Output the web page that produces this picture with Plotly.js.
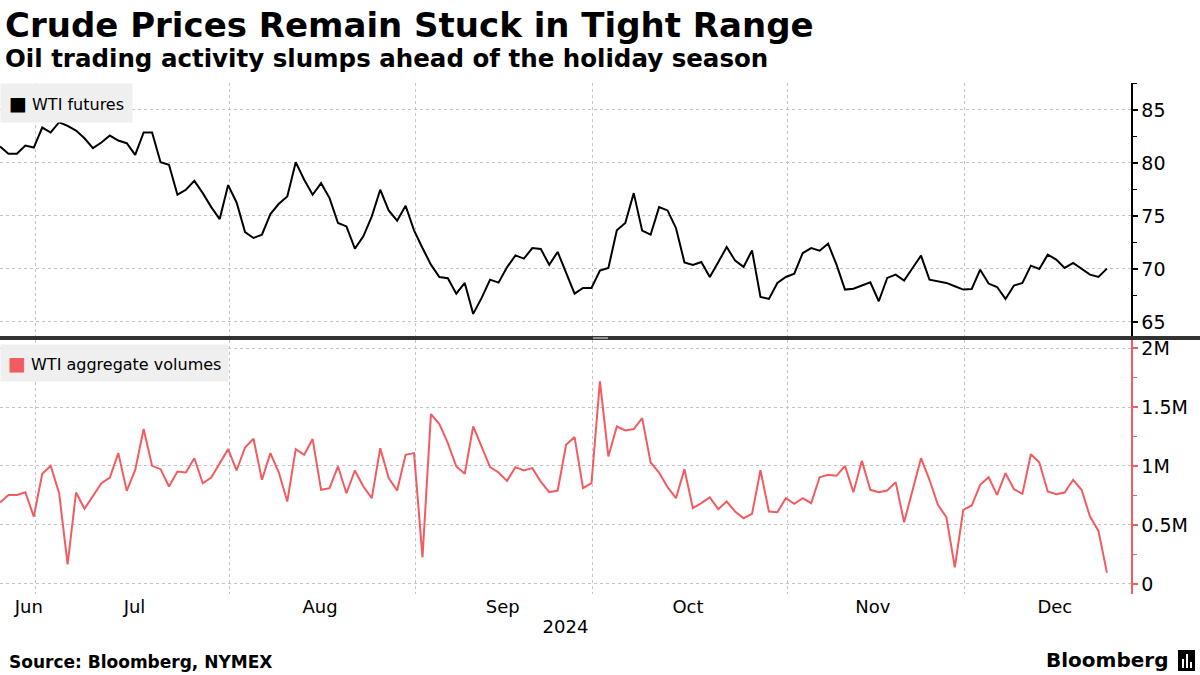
<!DOCTYPE html>
<html>
<head>
<meta charset="utf-8">
<script src="https://cdn.plot.ly/plotly-3.0.1.min.js"></script>
<style>
  html, body { margin: 0; padding: 0; background: #ffffff; }
  #chart { width: 1200px; height: 675px; }
</style>
</head>
<body>
<div id="chart"></div>
<script>
// ---- Data ----
// One point per weekday, starting Mon 24 Jun 2024 and ending Tue 24 Dec 2024 (132 points)
const START_DATE = '2024-06-24';
const N_POINTS = 132;

// WTI futures ($/bbl)
const wtiFutures = [
  81.55, 80.86, 80.86, 81.64, 81.45, 83.34, 82.87, 83.84, 83.49, 83.05,
  82.33, 81.39, 81.92, 82.58, 82.11, 81.86, 80.76, 82.87, 82.87, 80.07,
  79.82, 77.00, 77.47, 78.31, 77.15, 75.83, 74.70, 77.91, 76.27, 73.48,
  72.92, 73.23, 75.18, 76.15, 76.84, 80.07, 78.41, 77.00, 78.09, 76.68,
  74.33, 74.01, 71.91, 73.07, 74.96, 77.47, 75.52, 74.55, 75.96, 73.64,
  71.97, 70.40, 69.24, 69.12, 67.67, 68.68, 65.76, 67.27, 68.99, 68.71,
  70.15, 71.28, 70.97, 71.97, 71.88, 70.40, 71.60, 69.62, 67.67, 68.21,
  68.21, 69.84, 70.09, 73.64, 74.33, 77.15, 73.61, 73.23, 75.83, 75.52,
  73.86, 70.62, 70.37, 70.66, 69.24, 70.62, 72.07, 70.78, 70.19, 71.75,
  67.36, 67.17, 68.68, 69.24, 69.55, 71.50, 71.97, 71.72, 72.38, 70.40,
  68.05, 68.14, 68.43, 68.74, 66.95, 69.15, 69.46, 68.90, 70.09, 71.25,
  68.99, 68.84, 68.68, 68.37, 68.05, 68.11, 69.93, 68.62, 68.30, 67.17,
  68.43, 68.68, 70.31, 70.00, 71.35, 70.88, 70.09, 70.56, 70.00, 69.46,
  69.24, 70.03
];

// WTI aggregate volumes (contracts)
const wtiVolumes = [
  690000, 755000, 755000, 778000, 571000, 934000, 1001000, 769000, 167000, 775000,
  637000, 741000, 854000, 902000, 1109000, 789000, 967000, 1313000, 1001000, 973000,
  826000, 953000, 945000, 1066000, 854000, 902000, 1024000, 1143000, 962000, 1157000,
  1231000, 883000, 1109000, 945000, 699000, 1143000, 1095000, 1228000, 798000, 812000,
  996000, 769000, 962000, 826000, 727000, 1151000, 897000, 792000, 1095000, 1109000,
  226000, 1440000, 1355000, 1194000, 996000, 934000, 1335000, 1160000, 990000, 945000,
  874000, 990000, 962000, 982000, 868000, 778000, 792000, 1180000, 1245000, 812000,
  854000, 1717000, 1081000, 1335000, 1301000, 1313000, 1406000, 1030000, 945000, 820000,
  727000, 973000, 642000, 685000, 733000, 634000, 699000, 614000, 557000, 594000,
  964000, 614000, 608000, 727000, 679000, 727000, 685000, 905000, 925000, 917000,
  1001000, 778000, 1044000, 798000, 778000, 792000, 863000, 523000, 789000, 1066000,
  883000, 670000, 566000, 141000, 628000, 665000, 840000, 905000, 755000, 939000,
  803000, 764000, 1100000, 1030000, 784000, 761000, 775000, 883000, 798000, 571000,
  450000, 96000
];

// X-axis labels
const monthLabels = ['Jun', 'Jul', 'Aug', 'Sep', 'Oct', 'Nov', 'Dec'];
const monthLabelDates = ['2024-06-28 06:00', '2024-07-16 18:00', '2024-08-15 17:00',
  '2024-09-16 08:00', '2024-10-16 06:00', '2024-11-15 03:00', '2024-12-16 16:00'];
const monthStarts = ['2024-07-01', '2024-08-01', '2024-09-02', '2024-10-01', '2024-11-01', '2024-12-02'];
const yearLabel = '2024';

// Y-axis ticks
const priceTicks = [65, 70, 75, 80, 85];
const volumeTickVals = [0, 500000, 1000000, 1500000, 2000000];
const volumeTickText = ['0', '0.5M', '1M', '1.5M', '2M'];

// ---- Build weekday dates (x categories) ----
function pad(n) { return (n < 10 ? '0' : '') + n; }
function weekdayDates(start, count) {
  const p = start.split('-').map(Number);
  let d = new Date(Date.UTC(p[0], p[1] - 1, p[2]));
  const out = [];
  while (out.length < count) {
    const wd = d.getUTCDay();
    if (wd !== 0 && wd !== 6) {
      out.push(d.getUTCFullYear() + '-' + pad(d.getUTCMonth() + 1) + '-' + pad(d.getUTCDate()) + ' 20:00');
    }
    d = new Date(d.getTime() + 86400000);
  }
  return out;
}
const dates = weekdayDates(START_DATE, N_POINTS);

const FONT = 'DejaVu Sans';
const GRID = '#c4c4c4';
const RED = '#f25b60';

const traces = [
  {
    x: dates, y: wtiFutures, type: 'scatter', mode: 'lines',
    xaxis: 'x', yaxis: 'y', name: 'WTI futures',
    line: { color: '#000000', width: 2 }, hoverinfo: 'x+y'
  },
  {
    x: dates, y: wtiVolumes, type: 'scatter', mode: 'lines',
    xaxis: 'x', yaxis: 'y2', name: 'WTI aggregate volumes',
    line: { color: RED, width: 2 }, hoverinfo: 'x+y'
  }
];

const layout = {
  width: 1200, height: 675,
  margin: { l: 0, r: 69, t: 83, b: 81, pad: 0 },
  paper_bgcolor: '#ffffff', plot_bgcolor: '#ffffff',
  showlegend: false,
  font: { family: FONT, color: '#000000' },
  title: {
    text: 'Crude Prices Remain Stuck in Tight Range',
    x: 5 / 1200, xref: 'container', xanchor: 'left',
    y: 1 - 25 / 675, yref: 'container', yanchor: 'middle',
    font: { family: FONT, size: 34, weight: 'bold', color: '#000000' }
  },
  xaxis: {
    type: 'date', anchor: 'y2', domain: [0, 1],
    range: ['2024-06-24 20:00', '2024-12-27 16:24'],
    rangebreaks: [{ bounds: ['sat', 'mon'] }],
    tickmode: 'array', tickvals: monthLabelDates, ticktext: monthLabels,
    showgrid: false, zeroline: false, showline: false, ticks: '',
    tickfont: { family: FONT, size: 18, color: '#000000' },
    minor: {
      tickmode: 'array', tickvals: monthStarts, showgrid: true,
      gridcolor: GRID, gridwidth: 1, griddash: 'dot', ticks: ''
    },
    title: { text: yearLabel, font: { family: FONT, size: 18, color: '#000000' }, standoff: 4 }
  },
  yaxis: {
    domain: [0.504, 1], anchor: 'x', side: 'right',
    range: [63.63, 87.54],
    tickmode: 'array', tickvals: priceTicks,
    showgrid: true, gridcolor: GRID, gridwidth: 1, griddash: 'dot',
    zeroline: false, showline: true, linecolor: '#000000', linewidth: 1.5,
    ticks: 'outside', ticklen: 5, tickwidth: 2, tickcolor: '#000000',
    minor: { dtick: 2.5, tick0: 62.5, ticks: 'outside', ticklen: 4, tickwidth: 1, tickcolor: '#000000', showgrid: false },
    tickfont: { family: FONT, size: 19, color: '#000000' }
  },
  yaxis2: {
    domain: [0, 0.498], anchor: 'x', side: 'right',
    range: [-85000, 2072000],
    tickmode: 'array', tickvals: volumeTickVals, ticktext: volumeTickText,
    showgrid: true, gridcolor: GRID, gridwidth: 1, griddash: 'dot',
    zeroline: false, showline: true, linecolor: RED, linewidth: 1.5,
    ticks: 'outside', ticklen: 5, tickwidth: 2, tickcolor: RED,
    minor: { dtick: 250000, tick0: 0, ticks: 'outside', ticklen: 4, tickwidth: 1, tickcolor: RED, showgrid: false },
    tickfont: { family: FONT, size: 19, color: '#000000' }
  },
  shapes: [
    // panel separator bar
    { type: 'line', xref: 'paper', yref: 'paper', x0: -0.01, x1: 1.07, y0: 0.501, y1: 0.501,
      line: { color: '#333333', width: 4 }, layer: 'above' },
    { type: 'line', xref: 'paper', yref: 'paper', x0: 593 / 1131, x1: 608 / 1131, y0: 0.5018, y1: 0.5018,
      line: { color: '#9a9a9a', width: 1 }, layer: 'above' },
    { type: 'line', xref: 'paper', yref: 'paper', x0: 593 / 1131, x1: 608 / 1131, y0: 0.4999, y1: 0.4999,
      line: { color: '#9a9a9a', width: 1 }, layer: 'above' },
    // Bloomberg icon
    { type: 'rect', xref: 'paper', yref: 'paper', x0: 1178 / 1131, x1: 1195 / 1131,
      y0: (594 - 671) / 511, y1: (594 - 650) / 511, fillcolor: '#000000', line: { width: 0 } },
    { type: 'line', xref: 'paper', yref: 'paper', x0: 1183 / 1131, x1: 1183 / 1131,
      y0: (594 - 668) / 511, y1: (594 - 659) / 511, line: { color: '#ffffff', width: 2 } },
    { type: 'line', xref: 'paper', yref: 'paper', x0: 1187 / 1131, x1: 1187 / 1131,
      y0: (594 - 668) / 511, y1: (594 - 654) / 511, line: { color: '#ffffff', width: 2 } },
    { type: 'line', xref: 'paper', yref: 'paper', x0: 1191 / 1131, x1: 1191 / 1131,
      y0: (594 - 668) / 511, y1: (594 - 662) / 511, line: { color: '#ffffff', width: 2 } }
  ],
  annotations: [
    { text: 'Oil trading activity slumps ahead of the holiday season',
      xref: 'paper', yref: 'paper', x: 3 / 1131, y: (594 - 58) / 511,
      xanchor: 'left', yanchor: 'middle', showarrow: false,
      font: { family: FONT, size: 24.5, weight: 'bold', color: '#000000' } },
    { text: '<span style="color:#000000;font-size:19px">■</span> WTI futures',
      xref: 'paper', yref: 'paper', x: 0, y: 1, xanchor: 'left', yanchor: 'top',
      showarrow: false, bgcolor: '#efefef', borderpad: 8,
      font: { family: FONT, size: 16, color: '#000000' } },
    { text: '<span style="color:' + RED + ';font-size:19px">■</span> WTI aggregate volumes',
      xref: 'paper', yref: 'paper', x: 0, y: (594 - 344) / 511, xanchor: 'left', yanchor: 'top',
      showarrow: false, bgcolor: '#efefef', borderpad: 7,
      font: { family: FONT, size: 16, color: '#000000' } },
    { text: 'Source: Bloomberg, NYMEX',
      xref: 'paper', yref: 'paper', x: 7 / 1131, y: (594 - 662) / 511,
      xanchor: 'left', yanchor: 'middle', showarrow: false,
      font: { family: FONT, size: 17, weight: 'bold', color: '#000000' } },
    { text: 'Bloomberg',
      xref: 'paper', yref: 'paper', x: 1170 / 1131, y: (594 - 660) / 511,
      xanchor: 'right', yanchor: 'middle', showarrow: false,
      font: { family: FONT, size: 20, weight: 'bold', color: '#000000' } }
  ]
};

Plotly.newPlot('chart', traces, layout, { displayModeBar: false, staticPlot: true });
</script>
</body>
</html>
